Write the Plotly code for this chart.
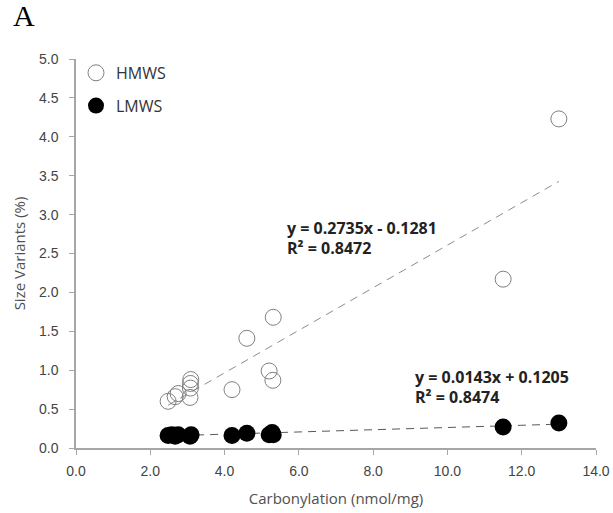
import numpy as np
import plotly.graph_objects as go

# Carbonylation (nmol/mg) and size variant levels (%)
hmws_x = [2.48, 2.67, 2.75, 3.07, 3.08, 3.08, 3.09, 4.2, 4.6, 5.2, 5.3, 5.31, 11.5, 13.0]
hmws_y = [0.60, 0.66, 0.70, 0.65, 0.77, 0.83, 0.88, 0.75, 1.41, 0.99, 0.87, 1.68, 2.17, 4.23]

lmws_x = [2.48, 2.58, 2.67, 2.75, 3.07, 3.1, 4.2, 4.6, 5.2, 5.28, 5.31, 11.5, 13.0]
lmws_y = [0.16, 0.17, 0.15, 0.17, 0.15, 0.17, 0.16, 0.19, 0.17, 0.20, 0.17, 0.27, 0.32]

# Linear fits (slope, intercept, R²)
hmws_fit = (0.2735, -0.1281, 0.8472)
lmws_fit = (0.0143, 0.1205, 0.8474)

x_ticks = [0, 2, 4, 6, 8, 10, 12, 14]
y_ticks = [0, 0.5, 1, 1.5, 2, 2.5, 3, 3.5, 4, 4.5, 5]


def fit_line(xs, fit):
    xr = np.array([min(xs), max(xs)])
    return xr, fit[0] * xr + fit[1]


fig = go.Figure()

hx, hy = fit_line(hmws_x, hmws_fit)
lx, ly = fit_line(lmws_x, lmws_fit)

fig.add_trace(go.Scatter(x=hx, y=hy, mode="lines", showlegend=False,
                         line=dict(color="#8c8c8c", width=1, dash="8px,6px")))
fig.add_trace(go.Scatter(x=lx, y=ly, mode="lines", showlegend=False,
                         line=dict(color="#595959", width=1, dash="8px,6px")))

fig.add_trace(go.Scatter(x=hmws_x, y=hmws_y, mode="markers", name="HMWS",
                         legendgroup="h",
                         marker=dict(symbol="circle-open", size=16,
                                     color="#7f7f7f", line=dict(width=1))))
fig.add_trace(go.Scatter(x=lmws_x, y=lmws_y, mode="markers", name="LMWS",
                         legendgroup="l",
                         marker=dict(symbol="circle", size=17, color="black")))


def eq_lines(fit):
    sign = "-" if fit[1] < 0 else "+"
    return (f"<b>y = {fit[0]:.4f}x {sign} {abs(fit[1]):.4f}</b>",
            f"<b>R² = {fit[2]:.4f}</b>")


eq_font = dict(family="Open Sans, sans-serif", size=16, color="#222")


def add_equation(fit, x, y_px):
    # two lines placed individually for tighter line spacing (pixels from plot top)
    for i, line in enumerate(eq_lines(fit)):
        fig.add_annotation(x=x, y=1 - (y_px + 20 * i) / 389, xref="x", yref="paper",
                           text=line, showarrow=False, xanchor="left",
                           yanchor="middle", align="left", font=eq_font)


add_equation(hmws_fit, 5.62, 228 - 59)
add_equation(lmws_fit, 9.07, 377 - 59)

fig.add_annotation(x=-0.125, y=1.065, xref="paper", yref="paper", text="A",
                   showarrow=False, xanchor="left", yanchor="bottom",
                   font=dict(family="Liberation Serif, serif", size=30, color="black"))

axis_common = dict(showgrid=False, zeroline=False, showline=True, automargin=False,
                   linecolor="#a6a6a6", linewidth=1.5, ticks="outside",
                   ticklen=5, tickcolor="#a6a6a6",
                   tickfont=dict(family="Liberation Sans, Arial, sans-serif",
                                 size=14, color="#444"))

title_font = dict(family="Open Sans, sans-serif", size=15, color="#505050")

fig.update_xaxes(range=[0, 14], tickvals=x_ticks,
                 ticktext=[f"{v:.1f}" for v in x_ticks],
                 ticklabelstandoff=4,
                 title=dict(text="Carbonylation (nmol/mg)", standoff=16, font=title_font),
                 **axis_common)
fig.update_yaxes(range=[0, 5], tickvals=y_ticks,
                 ticktext=[f"{v:.1f}" for v in y_ticks],
                 ticklabelstandoff=8,
                 title=dict(text="Size Variants (%)", standoff=10, font=title_font),
                 **axis_common)

fig.update_layout(
    template="none",
    width=613, height=513,
    margin=dict(l=76, r=17, t=59, b=65),
    plot_bgcolor="white", paper_bgcolor="white",
    legend=dict(x=0.0, y=1.008, xanchor="left", yanchor="top",
                bgcolor="rgba(0,0,0,0)", itemsizing="trace",
                font=dict(family="Open Sans, sans-serif", size=16, color="#333"),
                tracegroupgap=9),
)

fig.write_html("out.html")
